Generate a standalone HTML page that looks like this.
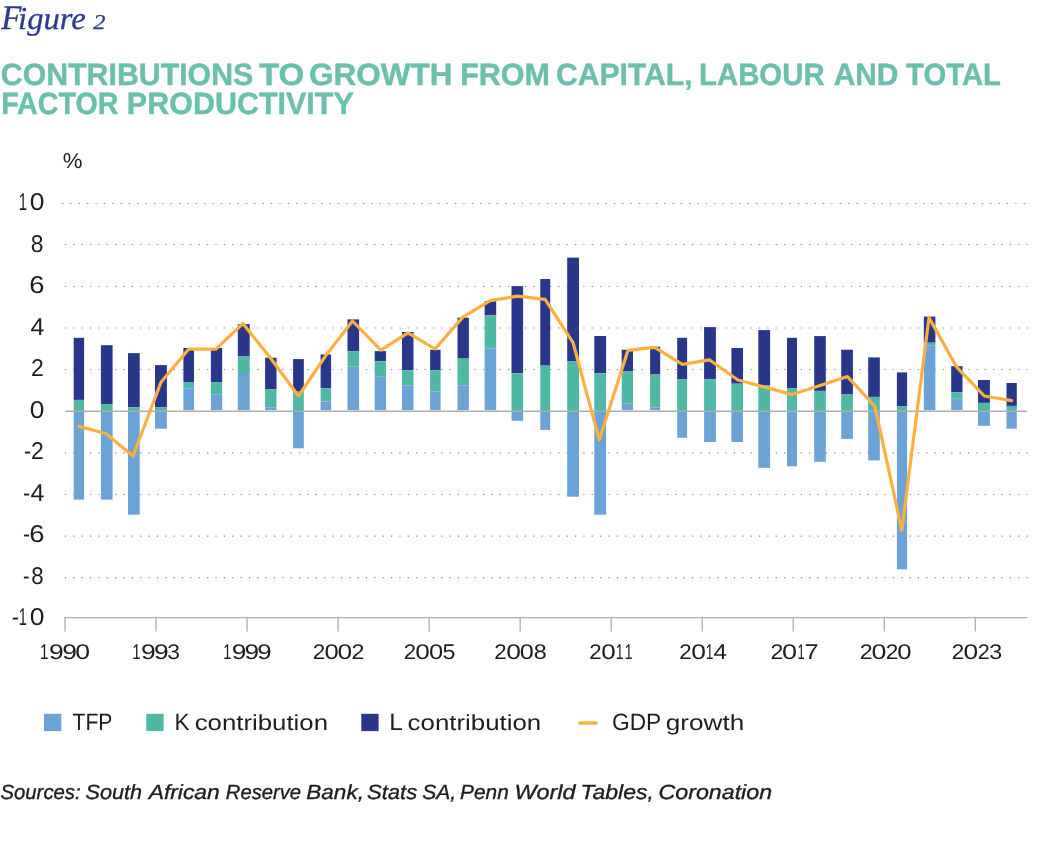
<!DOCTYPE html>
<html lang="en"><head><meta charset="utf-8"><title>Figure 2</title>
<style>
html,body{margin:0;padding:0;background:#fff;}
body{width:1063px;height:842px;overflow:hidden;position:relative;font-family:"Liberation Sans",sans-serif;}
svg{position:absolute;left:0;top:0;display:block;}
text{font-family:"Liberation Sans",sans-serif;fill:#1d1d1b;white-space:pre;text-rendering:geometricPrecision;}
.fig{font-family:"Liberation Serif",serif;font-style:italic;fill:#2a3a8e;stroke:#2a3a8e;stroke-width:0.3px;}
.ttl{font-weight:bold;fill:#6bbfad;stroke:#6bbfad;stroke-width:0.4px;stroke-linejoin:round;}
.thin{stroke:none;}
.src{font-style:italic;stroke:#1d1d1b;stroke-width:0.35px;}
</style>
</head><body>
<svg width="1063" height="842" viewBox="0 0 1063 842" role="img" aria-label="Contributions to growth from capital, labour and total factor productivity">
<rect width="1063" height="842" fill="#fff"/>
<g stroke="#858585" stroke-width="1.15" stroke-dasharray="1.2 7.162" fill="none">
<path d="M62.0 203.45H1025"/>
<path d="M64.9 244.45H1028"/>
<path d="M64.9 286.45H1028"/>
<path d="M64.9 327.95H1028"/>
<path d="M64.9 369.45H1028"/>
<path d="M64.9 452.90H1028"/>
<path d="M64.9 494.45H1028"/>
<path d="M64.9 536.10H1028"/>
<path d="M64.9 577.55H1028"/>
</g>
<g>
<rect x="73.7" y="337.8" width="10.4" height="62.1" fill="#29378b"/>
<rect x="73.7" y="399.9" width="10.4" height="11.3" fill="#4fb7a5"/>
<rect x="73.7" y="411.2" width="10.4" height="88.4" fill="#6ba3d6"/>
<rect x="100.9" y="345.2" width="11.7" height="59.2" fill="#29378b"/>
<rect x="100.9" y="404.4" width="11.7" height="6.8" fill="#4fb7a5"/>
<rect x="100.9" y="411.2" width="11.7" height="88.4" fill="#6ba3d6"/>
<rect x="128.0" y="353.1" width="11.7" height="54.1" fill="#29378b"/>
<rect x="128.0" y="407.2" width="11.7" height="4.0" fill="#4fb7a5"/>
<rect x="128.0" y="411.2" width="11.7" height="103.5" fill="#6ba3d6"/>
<rect x="155.0" y="365.1" width="11.9" height="42.1" fill="#29378b"/>
<rect x="155.0" y="407.2" width="11.9" height="4.0" fill="#4fb7a5"/>
<rect x="155.0" y="411.2" width="11.9" height="17.5" fill="#6ba3d6"/>
<rect x="183.4" y="348.0" width="10.6" height="34.1" fill="#29378b"/>
<rect x="183.4" y="382.1" width="10.6" height="6.2" fill="#4fb7a5"/>
<rect x="183.4" y="388.3" width="10.6" height="21.8" fill="#6ba3d6"/>
<rect x="210.9" y="348.0" width="11.3" height="34.1" fill="#29378b"/>
<rect x="210.9" y="382.1" width="11.3" height="12.2" fill="#4fb7a5"/>
<rect x="210.9" y="394.3" width="11.3" height="15.8" fill="#6ba3d6"/>
<rect x="237.8" y="324.1" width="11.9" height="32.4" fill="#29378b"/>
<rect x="237.8" y="356.5" width="11.9" height="16.5" fill="#4fb7a5"/>
<rect x="237.8" y="373.0" width="11.9" height="37.1" fill="#6ba3d6"/>
<rect x="265.1" y="357.7" width="11.4" height="31.6" fill="#29378b"/>
<rect x="265.1" y="389.3" width="11.4" height="18.3" fill="#4fb7a5"/>
<rect x="265.1" y="407.6" width="11.4" height="2.5" fill="#6ba3d6"/>
<rect x="293.1" y="359.1" width="10.7" height="32.5" fill="#29378b"/>
<rect x="293.1" y="391.6" width="10.7" height="19.6" fill="#4fb7a5"/>
<rect x="293.1" y="411.2" width="10.7" height="37.1" fill="#6ba3d6"/>
<rect x="320.6" y="354.5" width="10.5" height="33.7" fill="#29378b"/>
<rect x="320.6" y="388.2" width="10.5" height="13.3" fill="#4fb7a5"/>
<rect x="320.6" y="401.5" width="10.5" height="8.6" fill="#6ba3d6"/>
<rect x="347.5" y="319.4" width="11.6" height="31.9" fill="#29378b"/>
<rect x="347.5" y="351.3" width="11.6" height="15.4" fill="#4fb7a5"/>
<rect x="347.5" y="366.7" width="11.6" height="43.4" fill="#6ba3d6"/>
<rect x="374.7" y="351.1" width="11.3" height="10.2" fill="#29378b"/>
<rect x="374.7" y="361.3" width="11.3" height="14.9" fill="#4fb7a5"/>
<rect x="374.7" y="376.2" width="11.3" height="33.9" fill="#6ba3d6"/>
<rect x="402.0" y="332.0" width="11.5" height="38.2" fill="#29378b"/>
<rect x="402.0" y="370.2" width="11.5" height="15.2" fill="#4fb7a5"/>
<rect x="402.0" y="385.4" width="11.5" height="24.7" fill="#6ba3d6"/>
<rect x="430.1" y="349.8" width="10.5" height="20.4" fill="#29378b"/>
<rect x="430.1" y="370.2" width="10.5" height="21.2" fill="#4fb7a5"/>
<rect x="430.1" y="391.4" width="10.5" height="18.7" fill="#6ba3d6"/>
<rect x="457.5" y="317.7" width="11.4" height="40.3" fill="#29378b"/>
<rect x="457.5" y="358.0" width="11.4" height="27.3" fill="#4fb7a5"/>
<rect x="457.5" y="385.3" width="11.4" height="24.8" fill="#6ba3d6"/>
<rect x="484.6" y="301.1" width="11.6" height="14.3" fill="#29378b"/>
<rect x="484.6" y="315.4" width="11.6" height="33.1" fill="#4fb7a5"/>
<rect x="484.6" y="348.5" width="11.6" height="61.6" fill="#6ba3d6"/>
<rect x="511.5" y="286.1" width="11.6" height="87.2" fill="#29378b"/>
<rect x="511.5" y="373.3" width="11.6" height="37.9" fill="#4fb7a5"/>
<rect x="511.5" y="411.2" width="11.6" height="9.6" fill="#6ba3d6"/>
<rect x="540.3" y="279.0" width="9.9" height="86.6" fill="#29378b"/>
<rect x="540.3" y="365.6" width="9.9" height="45.6" fill="#4fb7a5"/>
<rect x="540.3" y="411.2" width="9.9" height="18.7" fill="#6ba3d6"/>
<rect x="567.2" y="257.6" width="11.8" height="103.5" fill="#29378b"/>
<rect x="567.2" y="361.1" width="11.8" height="50.1" fill="#4fb7a5"/>
<rect x="567.2" y="411.2" width="11.8" height="85.5" fill="#6ba3d6"/>
<rect x="594.3" y="336.0" width="11.8" height="37.3" fill="#29378b"/>
<rect x="594.3" y="373.3" width="11.8" height="37.9" fill="#4fb7a5"/>
<rect x="594.3" y="411.2" width="11.8" height="103.5" fill="#6ba3d6"/>
<rect x="621.7" y="349.7" width="11.3" height="21.8" fill="#29378b"/>
<rect x="621.7" y="371.5" width="11.3" height="31.8" fill="#4fb7a5"/>
<rect x="621.7" y="403.3" width="11.3" height="6.8" fill="#6ba3d6"/>
<rect x="650.1" y="346.7" width="10.1" height="27.8" fill="#29378b"/>
<rect x="650.1" y="374.5" width="10.1" height="32.9" fill="#4fb7a5"/>
<rect x="650.1" y="407.4" width="10.1" height="2.7" fill="#6ba3d6"/>
<rect x="677.2" y="337.8" width="9.9" height="41.5" fill="#29378b"/>
<rect x="677.2" y="379.3" width="9.9" height="31.9" fill="#4fb7a5"/>
<rect x="677.2" y="411.2" width="9.9" height="26.6" fill="#6ba3d6"/>
<rect x="704.1" y="327.1" width="11.8" height="52.2" fill="#29378b"/>
<rect x="704.1" y="379.3" width="11.8" height="31.9" fill="#4fb7a5"/>
<rect x="704.1" y="411.2" width="11.8" height="30.8" fill="#6ba3d6"/>
<rect x="731.4" y="348.0" width="11.6" height="35.7" fill="#29378b"/>
<rect x="731.4" y="383.7" width="11.6" height="27.5" fill="#4fb7a5"/>
<rect x="731.4" y="411.2" width="11.6" height="30.8" fill="#6ba3d6"/>
<rect x="758.3" y="330.1" width="11.8" height="54.9" fill="#29378b"/>
<rect x="758.3" y="385.0" width="11.8" height="26.2" fill="#4fb7a5"/>
<rect x="758.3" y="411.2" width="11.8" height="56.6" fill="#6ba3d6"/>
<rect x="787.0" y="337.8" width="10.0" height="50.4" fill="#29378b"/>
<rect x="787.0" y="388.2" width="10.0" height="23.0" fill="#4fb7a5"/>
<rect x="787.0" y="411.2" width="10.0" height="55.1" fill="#6ba3d6"/>
<rect x="814.2" y="336.1" width="11.6" height="54.8" fill="#29378b"/>
<rect x="814.2" y="390.9" width="11.6" height="20.3" fill="#4fb7a5"/>
<rect x="814.2" y="411.2" width="11.6" height="50.6" fill="#6ba3d6"/>
<rect x="841.2" y="349.7" width="11.7" height="44.8" fill="#29378b"/>
<rect x="841.2" y="394.5" width="11.7" height="16.7" fill="#4fb7a5"/>
<rect x="841.2" y="411.2" width="11.7" height="27.7" fill="#6ba3d6"/>
<rect x="868.2" y="357.4" width="11.6" height="39.5" fill="#29378b"/>
<rect x="868.2" y="396.9" width="11.6" height="14.3" fill="#4fb7a5"/>
<rect x="868.2" y="411.2" width="11.6" height="49.2" fill="#6ba3d6"/>
<rect x="896.9" y="372.4" width="10.2" height="33.7" fill="#29378b"/>
<rect x="896.9" y="406.1" width="10.2" height="5.1" fill="#4fb7a5"/>
<rect x="896.9" y="411.2" width="10.2" height="158.1" fill="#6ba3d6"/>
<rect x="923.8" y="316.6" width="11.6" height="26.1" fill="#29378b"/>
<rect x="923.8" y="342.7" width="11.6" height="3.0" fill="#4fb7a5"/>
<rect x="923.8" y="345.7" width="11.6" height="64.4" fill="#6ba3d6"/>
<rect x="951.2" y="366.2" width="11.3" height="26.1" fill="#29378b"/>
<rect x="951.2" y="392.3" width="11.3" height="6.3" fill="#4fb7a5"/>
<rect x="951.2" y="398.6" width="11.3" height="11.5" fill="#6ba3d6"/>
<rect x="978.0" y="380.0" width="11.9" height="22.9" fill="#29378b"/>
<rect x="978.0" y="402.9" width="11.9" height="8.3" fill="#4fb7a5"/>
<rect x="978.0" y="411.2" width="11.9" height="14.6" fill="#6ba3d6"/>
<rect x="1006.5" y="383.0" width="10.3" height="22.9" fill="#29378b"/>
<rect x="1006.5" y="405.9" width="10.3" height="5.3" fill="#4fb7a5"/>
<rect x="1006.5" y="411.2" width="10.3" height="17.5" fill="#6ba3d6"/>
</g>
<path d="M65.2 411.2H1027.1" stroke="#adadad" stroke-width="1.5" fill="none"/>
<g stroke="#adadad" stroke-width="1.3" fill="none">
<path d="M64.4 617.65H1027.5"/>
<path d="M65.00 617.3V631.6"/>
<path d="M156.03 617.3V631.6"/>
<path d="M247.06 617.3V631.6"/>
<path d="M338.09 617.3V631.6"/>
<path d="M429.12 617.3V631.6"/>
<path d="M520.15 617.3V631.6"/>
<path d="M611.18 617.3V631.6"/>
<path d="M702.21 617.3V631.6"/>
<path d="M793.24 617.3V631.6"/>
<path d="M884.27 617.3V631.6"/>
<path d="M975.30 617.3V631.6"/>
</g>
<polyline points="78.8,426.3 106.1,433.8 133.0,456.1 161.0,382.2 188.6,349.2 215.9,349.2 242.9,323.5 270.8,358.5 298.5,396.0 325.6,355.8 352.5,321.0 380.8,350.2 408.0,332.9 435.0,349.0 462.9,317.1 490.2,300.6 517.5,296.1 545.1,299.4 573.0,342.5 599.3,439.8 627.9,350.4 654.6,347.4 682.4,364.3 709.3,359.8 737.9,380.0 764.3,386.9 792.0,394.6 820.0,385.5 847.5,376.6 874.9,406.3 901.8,530.3 929.0,317.6 956.5,366.8 984.4,396.0 1011.6,400.7" fill="none" stroke="#fbb040" stroke-width="3.2" stroke-linejoin="round" stroke-linecap="round"/>
<rect x="44" y="713.8" width="17.3" height="17.3" fill="#6ba3d6"/>
<rect x="146.3" y="713.8" width="17.3" height="17.3" fill="#4fb7a5"/>
<rect x="361.3" y="713.8" width="17.3" height="17.3" fill="#29378b"/>
<path d="M579.7 723H596.3" stroke="#fbb040" stroke-width="3.4" stroke-linecap="round" fill="none"/>
<text class="fig" y="29.0" font-size="32"><tspan x="1.19" font-size="34.4" textLength="20.15" lengthAdjust="spacingAndGlyphs">F</tspan><tspan x="18.08" textLength="67.80" lengthAdjust="spacingAndGlyphs">igure</tspan> <tspan x="93.27" font-size="21" textLength="12.21" lengthAdjust="spacingAndGlyphs">2</tspan></text>
<text class="ttl" y="84.8" font-size="30.8"><tspan x="0.79" textLength="252.44" lengthAdjust="spacingAndGlyphs">CONTRIBUTIONS</tspan> <tspan x="258.90" textLength="45.42" lengthAdjust="spacingAndGlyphs">TO</tspan> <tspan x="309.09" textLength="143.55" lengthAdjust="spacingAndGlyphs">GROWTH</tspan> <tspan x="460.14" textLength="89.95" lengthAdjust="spacingAndGlyphs">FROM</tspan> <tspan x="555.94" textLength="136.58" lengthAdjust="spacingAndGlyphs">CAPITAL,</tspan> <tspan x="699.03" textLength="125.57" lengthAdjust="spacingAndGlyphs">LABOUR</tspan> <tspan x="833.63" textLength="64.85" lengthAdjust="spacingAndGlyphs">AND</tspan> <tspan x="906.08" textLength="94.83" lengthAdjust="spacingAndGlyphs">TOTAL</tspan></text>
<text class="ttl" y="113.8" font-size="30.8"><tspan x="1.16" textLength="117.31" lengthAdjust="spacingAndGlyphs">FACTOR</tspan> <tspan x="126.85" textLength="226.88" lengthAdjust="spacingAndGlyphs">PRODUCTIVITY</tspan></text>
<text class="thin" y="168.0" font-size="21.5"><tspan x="62.89" textLength="19.68" lengthAdjust="spacingAndGlyphs">%</tspan></text>
<text class="thin" y="209.8" font-size="24.3"><tspan x="18.69" textLength="8.27" lengthAdjust="spacingAndGlyphs">1</tspan><tspan x="29.70" textLength="14.69" lengthAdjust="spacingAndGlyphs">0</tspan></text>
<text class="thin" y="251.7" font-size="24.3"><tspan x="30.72" textLength="12.71" lengthAdjust="spacingAndGlyphs">8</tspan></text>
<text class="thin" y="292.8" font-size="24.3"><tspan x="29.31" textLength="15.26" lengthAdjust="spacingAndGlyphs">6</tspan></text>
<text class="thin" y="335.2" font-size="24.3"><tspan x="30.42" textLength="13.83" lengthAdjust="spacingAndGlyphs">4</tspan></text>
<text class="thin" y="376.4" font-size="24.3"><tspan x="30.96" textLength="12.82" lengthAdjust="spacingAndGlyphs">2</tspan></text>
<text class="thin" y="417.9" font-size="24.3"><tspan x="29.72" textLength="14.63" lengthAdjust="spacingAndGlyphs">0</tspan></text>
<text class="thin" y="459.3" font-size="24.3"><tspan x="23.92" textLength="7.13" lengthAdjust="spacingAndGlyphs">-</tspan><tspan x="30.96" textLength="12.82" lengthAdjust="spacingAndGlyphs">2</tspan></text>
<text class="thin" y="500.9" font-size="24.3"><tspan x="22.95" textLength="7.16" lengthAdjust="spacingAndGlyphs">-</tspan><tspan x="30.42" textLength="13.83" lengthAdjust="spacingAndGlyphs">4</tspan></text>
<text class="thin" y="541.9" font-size="24.3"><tspan x="22.90" textLength="7.00" lengthAdjust="spacingAndGlyphs">-</tspan><tspan x="29.31" textLength="15.26" lengthAdjust="spacingAndGlyphs">6</tspan></text>
<text class="thin" y="583.9" font-size="24.3"><tspan x="23.10" textLength="6.46" lengthAdjust="spacingAndGlyphs">-</tspan><tspan x="31.14" textLength="12.38" lengthAdjust="spacingAndGlyphs">8</tspan></text>
<text class="thin" y="624.6" font-size="24.3"><tspan x="11.87" textLength="7.14" lengthAdjust="spacingAndGlyphs">-</tspan><tspan x="18.85" textLength="8.14" lengthAdjust="spacingAndGlyphs">1</tspan><tspan x="29.70" textLength="14.69" lengthAdjust="spacingAndGlyphs">0</tspan></text>
<text class="thin" y="658.9" font-size="21.3"><tspan x="40.09" textLength="8.43" lengthAdjust="spacingAndGlyphs">1</tspan><tspan x="49.01" textLength="14.76" lengthAdjust="spacingAndGlyphs">9</tspan><tspan x="62.16" textLength="14.79" lengthAdjust="spacingAndGlyphs">9</tspan><tspan x="75.33" textLength="14.81" lengthAdjust="spacingAndGlyphs">0</tspan></text>
<text class="thin" y="658.9" font-size="21.3"><tspan x="132.22" textLength="8.43" lengthAdjust="spacingAndGlyphs">1</tspan><tspan x="140.91" textLength="14.76" lengthAdjust="spacingAndGlyphs">9</tspan><tspan x="153.97" textLength="14.77" lengthAdjust="spacingAndGlyphs">9</tspan><tspan x="167.36" textLength="12.77" lengthAdjust="spacingAndGlyphs">3</tspan></text>
<text class="thin" y="658.9" font-size="21.3"><tspan x="223.13" textLength="8.05" lengthAdjust="spacingAndGlyphs">1</tspan><tspan x="231.85" textLength="14.67" lengthAdjust="spacingAndGlyphs">9</tspan><tspan x="244.64" textLength="14.65" lengthAdjust="spacingAndGlyphs">9</tspan><tspan x="257.30" textLength="14.42" lengthAdjust="spacingAndGlyphs">9</tspan></text>
<text class="thin" y="658.9" font-size="21.3"><tspan x="312.80" textLength="12.49" lengthAdjust="spacingAndGlyphs">2</tspan><tspan x="324.60" textLength="14.22" lengthAdjust="spacingAndGlyphs">0</tspan><tspan x="337.63" textLength="14.69" lengthAdjust="spacingAndGlyphs">0</tspan><tspan x="351.57" textLength="12.97" lengthAdjust="spacingAndGlyphs">2</tspan></text>
<text class="thin" y="658.9" font-size="21.3"><tspan x="403.65" textLength="12.37" lengthAdjust="spacingAndGlyphs">2</tspan><tspan x="415.38" textLength="14.56" lengthAdjust="spacingAndGlyphs">0</tspan><tspan x="428.92" textLength="14.21" lengthAdjust="spacingAndGlyphs">0</tspan><tspan x="442.63" textLength="12.95" lengthAdjust="spacingAndGlyphs">5</tspan></text>
<text class="thin" y="658.9" font-size="21.3"><tspan x="494.35" textLength="12.38" lengthAdjust="spacingAndGlyphs">2</tspan><tspan x="506.15" textLength="14.71" lengthAdjust="spacingAndGlyphs">0</tspan><tspan x="519.71" textLength="14.10" lengthAdjust="spacingAndGlyphs">0</tspan><tspan x="533.65" textLength="13.00" lengthAdjust="spacingAndGlyphs">8</tspan></text>
<text class="thin" y="658.9" font-size="21.3"><tspan x="589.35" textLength="12.38" lengthAdjust="spacingAndGlyphs">2</tspan><tspan x="601.27" textLength="14.45" lengthAdjust="spacingAndGlyphs">0</tspan><tspan x="615.79" textLength="7.77" lengthAdjust="spacingAndGlyphs">1</tspan><tspan x="624.79" textLength="7.77" lengthAdjust="spacingAndGlyphs">1</tspan></text>
<text class="thin" y="658.9" font-size="21.3"><tspan x="679.35" textLength="12.38" lengthAdjust="spacingAndGlyphs">2</tspan><tspan x="691.15" textLength="14.71" lengthAdjust="spacingAndGlyphs">0</tspan><tspan x="705.80" textLength="7.65" lengthAdjust="spacingAndGlyphs">1</tspan><tspan x="713.50" textLength="13.49" lengthAdjust="spacingAndGlyphs">4</tspan></text>
<text class="thin" y="658.9" font-size="21.3"><tspan x="770.44" textLength="12.88" lengthAdjust="spacingAndGlyphs">2</tspan><tspan x="782.10" textLength="15.04" lengthAdjust="spacingAndGlyphs">0</tspan><tspan x="797.38" textLength="7.25" lengthAdjust="spacingAndGlyphs">1</tspan><tspan x="804.61" textLength="14.17" lengthAdjust="spacingAndGlyphs">7</tspan></text>
<text class="thin" y="658.9" font-size="21.3"><tspan x="859.72" textLength="12.85" lengthAdjust="spacingAndGlyphs">2</tspan><tspan x="871.43" textLength="14.92" lengthAdjust="spacingAndGlyphs">0</tspan><tspan x="885.65" textLength="12.61" lengthAdjust="spacingAndGlyphs">2</tspan><tspan x="897.20" textLength="14.33" lengthAdjust="spacingAndGlyphs">0</tspan></text>
<text class="thin" y="658.9" font-size="21.3"><tspan x="951.66" textLength="12.49" lengthAdjust="spacingAndGlyphs">2</tspan><tspan x="963.63" textLength="14.69" lengthAdjust="spacingAndGlyphs">0</tspan><tspan x="977.80" textLength="12.03" lengthAdjust="spacingAndGlyphs">2</tspan><tspan x="989.20" textLength="12.97" lengthAdjust="spacingAndGlyphs">3</tspan></text>
<text class="thin" y="730.1" font-size="23.6"><tspan x="72.51" textLength="39.93" lengthAdjust="spacingAndGlyphs">TFP</tspan></text>
<text class="thin" y="730.1" font-size="23.6"><tspan x="174.48" textLength="15.08" lengthAdjust="spacingAndGlyphs">K</tspan> <tspan x="194.70" font-size="21.8" textLength="133.34" lengthAdjust="spacingAndGlyphs">contribution</tspan></text>
<text class="thin" y="730.1" font-size="23.6"><tspan x="389.34" textLength="12.63" lengthAdjust="spacingAndGlyphs">L</tspan> <tspan x="407.63" font-size="21.8" textLength="133.56" lengthAdjust="spacingAndGlyphs">contribution</tspan></text>
<text class="thin" y="730.1" font-size="23.6"><tspan x="612.04" textLength="48.82" lengthAdjust="spacingAndGlyphs">GDP</tspan> <tspan x="665.87" font-size="21.8" textLength="78.34" lengthAdjust="spacingAndGlyphs">growth</tspan></text>
<text class="src" y="798.7" font-size="20.5"><tspan x="0.46" textLength="80.22" lengthAdjust="spacingAndGlyphs">Sources:</tspan> <tspan x="85.57" textLength="56.55" lengthAdjust="spacingAndGlyphs">South</tspan> <tspan x="148.66" textLength="71.15" lengthAdjust="spacingAndGlyphs">African</tspan> <tspan x="225.85" textLength="75.21" lengthAdjust="spacingAndGlyphs">Reserve</tspan> <tspan x="306.34" textLength="57.56" lengthAdjust="spacingAndGlyphs">Bank,</tspan> <tspan x="366.91" textLength="50.34" lengthAdjust="spacingAndGlyphs">Stats</tspan> <tspan x="422.33" textLength="33.89" lengthAdjust="spacingAndGlyphs">SA,</tspan> <tspan x="460.08" textLength="48.73" lengthAdjust="spacingAndGlyphs">Penn</tspan> <tspan x="514.43" textLength="61.21" lengthAdjust="spacingAndGlyphs">World</tspan> <tspan x="580.61" textLength="73.20" lengthAdjust="spacingAndGlyphs">Tables,</tspan> <tspan x="658.54" textLength="113.53" lengthAdjust="spacingAndGlyphs">Coronation</tspan></text>
</svg>
</body></html>
